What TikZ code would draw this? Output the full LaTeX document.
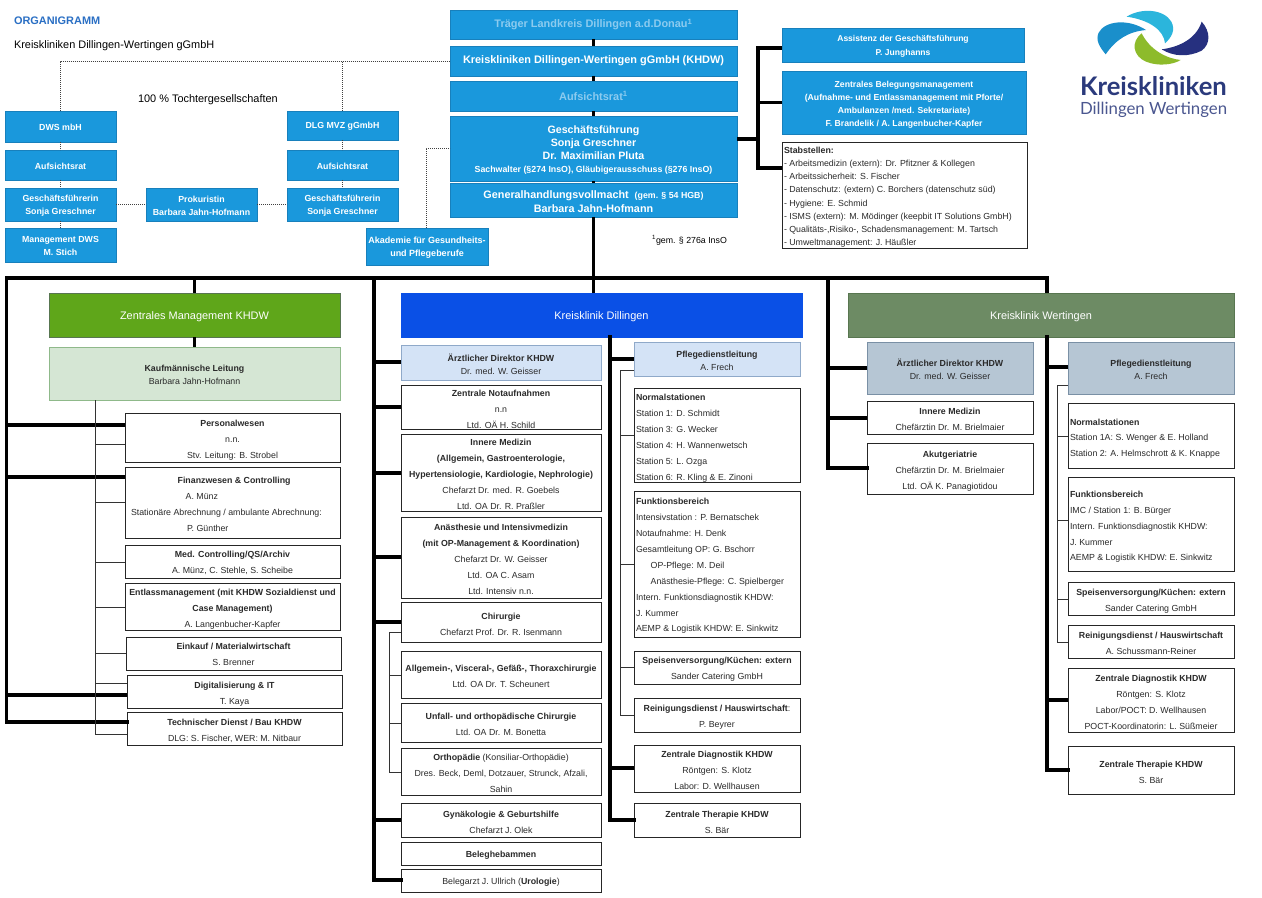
\documentclass[tikz,border=0pt]{standalone}
\usepackage{fontspec}
\setmainfont{Liberation Sans}
\newfontfamily\logofont{Lato}
\definecolor{hblue}{HTML}{1A98DC}
\definecolor{hbord}{HTML}{1880BC}
\definecolor{fade}{HTML}{8CCBEF}
\definecolor{mgreen}{HTML}{5FA61A}
\definecolor{lgreen}{HTML}{D5E6D4}
\definecolor{lgbord}{HTML}{8FB98A}
\definecolor{royal}{HTML}{0A50E6}
\definecolor{lblue}{HTML}{D4E3F6}
\definecolor{lbbord}{HTML}{8FA9C9}
\definecolor{wgreen}{HTML}{6D8B64}
\definecolor{wgbord}{HTML}{587650}
\definecolor{gblue}{HTML}{B6C6D4}
\definecolor{gbbord}{HTML}{7A90A5}
\definecolor{titleblue}{HTML}{2A6FC4}
\definecolor{navy}{HTML}{2B3A7C}
\definecolor{navyb}{HTML}{26307F}
\definecolor{logoa}{HTML}{1A8FCB}
\definecolor{logob}{HTML}{2BB5DC}
\definecolor{logog}{HTML}{8DBB2B}
\definecolor{txt}{HTML}{2A2A2A}
\tikzset{
  bxbase/.style={rectangle,inner xsep=0pt,inner ysep=-6pt,outer sep=0pt,align=flush center,text=txt,font=\fontsize{6.6}{12}\selectfont},
  lead/.style={font=\fontsize{6.6}{#1}\selectfont},
  whitebox/.style={draw=black!85,fill=white,line width=.7pt},
  bluebox/.style={draw=hbord,fill=hblue,text=white,line width=.6pt,font=\bfseries\fontsize{6.6}{9.5}\selectfont},
  bar/.style={line width=.7pt,text=white,font=\fontsize{8.2}{10}\selectfont},
  leftbox/.style={align=flush left},
  heavy/.style={line width=2.5pt,black},
  thinl/.style={line width=.7pt,black!80},
  dotl/.style={line width=.7pt,black!75,dash pattern=on .8pt off .7pt},
  free/.style={inner sep=0pt,outer sep=0pt,anchor=west,text=black,font=\fontsize{8.2}{10}\selectfont}
}
\newcommand{\kbox}[8][2]{%
  \pgfmathsetmacro\kw{(#5-#3)*.75}%
  \pgfmathsetmacro\kh{(#6-#4)*.75}%
  \pgfmathsetmacro\kt{\kw-3}%
  \pgfmathsetmacro\ks{5+#1*1.5}%
  \node[bxbase,minimum width=\kw pt,minimum height=\kh pt,text width=\kt pt,#7] (#2) at ({(#3+#5)/2},{(#4+#6)/2}) {\rule{0pt}{\ks pt}#8};}
\newcommand{\tap}[4]{\draw[#4] (#2.west |- 0,#3) -- (#1 |- 0,#3);}
\begin{document}
\begin{tikzpicture}[x=.75pt,y=-.75pt]
\useasboundingbox (0,0) rectangle (1262,898);
\fill[white] (0,0) rectangle (1262,898);
% titles
\node[free,text=titleblue,font=\bfseries\fontsize{8.2}{10}\selectfont] (ttl) at (14,21) {ORGANIGRAMM};
\node[free] (sub) at (14,45.5) {Kreiskliniken Dillingen-Wertingen gGmbH};
\node[free] (toch) at (138,99.5) {100 \% Tochtergesellschaften};
\node[free,font=\fontsize{6.6}{8}\selectfont] (fn) at (652,240) {\textsuperscript{1}gem. § 276a InsO};
% top column
\kbox[1]{trg}{450}{10}{737}{39}{bluebox,text=fade,font=\bfseries\fontsize{8.2}{10}\selectfont}{Träger Landkreis Dillingen a.d.Donau\textsuperscript{1}}
\kbox[0.5]{khdw}{450}{46}{737}{76}{bluebox,font=\bfseries\fontsize{8.2}{10}\selectfont}{Kreiskliniken Dillingen-Wertingen gGmbH (KHDW)}
\kbox[0.5]{ar}{450}{81}{737}{111}{bluebox,text=fade,font=\bfseries\fontsize{8.2}{10}\selectfont}{Aufsichtsrat\textsuperscript{1}}
\kbox{gf}{450}{116}{737}{181}{bluebox,font=\bfseries\fontsize{8}{9.9}\selectfont}{Geschäftsführung\\Sonja Greschner\\Dr. Maximilian Pluta\\{\fontsize{6.6}{9.9}\selectfont Sachwalter (§274 InsO), Gläubigerausschuss (§276 InsO)}}
\kbox{ghv}{450}{183}{737}{217}{bluebox,font=\bfseries\fontsize{8.1}{10.1}\selectfont}{Generalhandlungsvollmacht\ \ {\fontsize{6.6}{10.1}\selectfont(gem. § 54 HGB)}\\Barbara Jahn-Hofmann}
\kbox[1]{assi}{782}{28}{1024}{62}{bluebox,font=\bfseries\fontsize{6.4}{10}\selectfont}{Assistenz der Geschäftsführung\\P. Junghanns}
\kbox{beleg}{782}{71}{1026}{134}{bluebox,font=\bfseries\fontsize{6.5}{9.9}\selectfont}{Zentrales Belegungsmanagement\\(Aufnahme- und Entlassmanagement mit Pforte/\\Ambulanzen /med. Sekretariate)\\F. Brandelik / A. Langenbucher-Kapfer}
\kbox{stab}{782}{142}{1027}{248}{whitebox,leftbox,lead=9.9}{\textbf{Stabstellen:}\\- Arbeitsmedizin (extern): Dr. Pfitzner \& Kollegen\\- Arbeitssicherheit: S. Fischer\\- Datenschutz: (extern) C. Borchers (datenschutz süd)\\- Hygiene: E. Schmid\\- ISMS (extern): M. Mödinger (keepbit IT Solutions GmbH)\\- Qualitäts-,Risiko-, Schadensmanagement: M. Tartsch\\- Umweltmanagement: J. Häußler}
% daughter companies
\kbox[1]{dws}{5}{111}{116}{142}{bluebox}{DWS mbH}
\kbox[1]{dwsar}{5}{150}{116}{180}{bluebox}{Aufsichtsrat}
\kbox[1]{dwsgf}{5}{188}{116}{221}{bluebox}{Geschäftsführerin\\Sonja Greschner}
\kbox[1]{dwsm}{5}{228}{116}{262}{bluebox}{Management DWS\\M. Stich}
\kbox[1]{dlg}{287}{111}{398}{140}{bluebox}{DLG MVZ gGmbH}
\kbox[1]{dlgar}{287}{150}{398}{180}{bluebox}{Aufsichtsrat}
\kbox[1]{dlggf}{287}{188}{398}{221}{bluebox}{Geschäftsführerin\\Sonja Greschner}
\kbox[1]{prok}{146}{188}{257}{221}{bluebox}{Prokuristin\\Barbara Jahn-Hofmann}
\kbox[1]{akad}{366}{228}{488}{265}{bluebox,font=\bfseries\fontsize{6.75}{9.8}\selectfont}{Akademie für Gesundheits-\\und Pflegeberufe}
% Zentrales Management
\kbox{zm}{49}{293}{340}{337}{bar,draw=wgbord,fill=mgreen}{Zentrales Management KHDW}
\kbox[1]{kauf}{49}{347}{340}{400}{draw=lgbord,fill=lgreen,line width=.7pt,lead=9.8}{\textbf{Kaufmännische Leitung}\\Barbara Jahn-Hofmann}
\kbox[3]{pers}{125}{413}{340}{462}{whitebox}{\textbf{Personalwesen}\\n.n.\\Stv. Leitung: B. Strobel}
\kbox{fin}{125}{467}{340}{538}{whitebox,leftbox}{\hspace*{38pt}\textbf{Finanzwesen \& Controlling}\\\hspace*{44pt}A. Münz\\\hspace*{3pt}Stationäre Abrechnung / ambulante Abrechnung:\\\hspace*{45pt}P. Günther}
\kbox[1]{med}{125}{545}{340}{578}{whitebox}{\textbf{Med. Controlling/QS/Archiv}\\A. Münz, C. Stehle, S. Scheibe}
\kbox[3]{entl}{125}{583}{340}{630}{whitebox}{\textbf{Entlassmanagement (mit KHDW Sozialdienst und}\\\textbf{Case Management)}\\A. Langenbucher-Kapfer}
\kbox[1]{eink}{126}{637}{341}{670}{whitebox}{\textbf{Einkauf / Materialwirtschaft}\\S. Brenner}
\kbox[3]{digi}{127}{675}{342}{708}{whitebox}{\textbf{Digitalisierung \& IT}\\T. Kaya}
\kbox{tech}{127}{712}{342}{745}{whitebox}{\textbf{Technischer Dienst / Bau KHDW}\\DLG: S. Fischer, WER: M. Nitbaur}
% Dillingen
\kbox{kd}{401}{293}{802}{337}{bar,draw=royal,fill=royal}{Kreisklinik Dillingen}
\kbox{da}{401}{345}{601}{380}{draw=lbbord,fill=lblue,line width=.7pt,lead=10}{\textbf{Ärztlicher Direktor KHDW}\\Dr. med. W. Geisser}
\kbox{dnot}{401}{385}{601}{429}{whitebox}{\textbf{Zentrale Notaufnahmen}\\n.n\\Ltd. OÄ H. Schild}
\kbox{dinn}{401}{434}{601}{511}{whitebox}{\textbf{Innere Medizin}\\\textbf{(Allgemein, Gastroenterologie,}\\\textbf{Hypertensiologie, Kardiologie, Nephrologie)}\\Chefarzt Dr. med. R. Goebels\\Ltd. OA Dr. R. Praßler}
\kbox{dana}{401}{517}{601}{598}{whitebox}{\textbf{Anästhesie und Intensivmedizin}\\\textbf{(mit OP-Management \& Koordination)}\\Chefarzt Dr. W. Geisser\\Ltd. OA C. Asam\\Ltd. Intensiv n.n.}
\kbox{dchi}{401}{602}{601}{642}{whitebox}{\textbf{Chirurgie}\\Chefarzt Prof. Dr. R. Isenmann}
\kbox{dall}{401}{651}{601}{698}{whitebox}{\textbf{Allgemein-, Visceral-, Gefäß-, Thoraxchirurgie}\\Ltd. OA Dr. T. Scheunert}
\kbox{dunf}{401}{703}{601}{742}{whitebox}{\textbf{Unfall- und orthopädische Chirurgie}\\Ltd. OA Dr. M. Bonetta}
\kbox{dort}{401}{748}{601}{795}{whitebox}{\textbf{Orthopädie} (Konsiliar-Orthopädie)\\Dres. Beck, Deml, Dotzauer, Strunck, Afzali,\\Sahin}
\kbox{dgyn}{401}{803}{601}{837}{whitebox}{\textbf{Gynäkologie \& Geburtshilfe}\\Chefarzt J. Olek}
\kbox{dheb}{401}{842}{601}{865}{whitebox}{\textbf{Beleghebammen}}
\kbox{duro}{401}{869}{601}{892}{whitebox}{Belegarzt J. Ullrich (\textbf{Urologie})}
\kbox{dp}{634}{342}{800}{376}{draw=lbbord,fill=lblue,line width=.7pt,lead=10}{\textbf{Pflegedienstleitung}\\A. Frech}
\kbox[3]{dnor}{634}{388}{800}{482}{whitebox,leftbox,lead=11.9}{\textbf{Normalstationen}\\Station 1: D. Schmidt\\Station 3: G. Wecker\\Station 4: H. Wannenwetsch\\Station 5: L. Ozga\\Station 6: R. Kling \& E. Zinoni}
\kbox{dfun}{634}{491}{800}{637}{whitebox,leftbox,lead=11.9}{\textbf{Funktionsbereich}\\Intensivstation : P. Bernatschek\\Notaufnahme: H. Denk\\Gesamtleitung OP: G. Bschorr\\\hspace*{11pt}OP-Pflege: M. Deil\\\hspace*{11pt}Anästhesie-Pflege: C. Spielberger\\Intern. Funktionsdiagnostik KHDW:\\J. Kummer\\AEMP \& Logistik KHDW: E. Sinkwitz}
\kbox{dspe}{634}{651}{800}{684}{whitebox}{\textbf{Speisenversorgung/Küchen: extern}\\Sander Catering GmbH}
\kbox{drei}{634}{698}{800}{732}{whitebox}{\textbf{Reinigungsdienst / Hauswirtschaft}:\\P. Beyrer}
\kbox{ddia}{634}{745}{800}{792}{whitebox}{\textbf{Zentrale Diagnostik KHDW}\\Röntgen: S. Klotz\\Labor: D. Wellhausen}
\kbox{dthe}{634}{803}{800}{837}{whitebox}{\textbf{Zentrale Therapie KHDW}\\S. Bär}
% Wertingen
\kbox{kw}{848}{293}{1234}{337}{bar,draw=wgbord,fill=wgreen}{Kreisklinik Wertingen}
\kbox{wa}{867}{342}{1033}{394}{draw=gbbord,fill=gblue,line width=.7pt,lead=10}{\textbf{Ärztlicher Direktor KHDW}\\Dr. med. W. Geisser}
\kbox{winn}{867}{401}{1033}{434}{whitebox}{\textbf{Innere Medizin}\\Chefärztin Dr. M. Brielmaier}
\kbox[3]{wakt}{867}{443}{1033}{494}{whitebox}{\textbf{Akutgeriatrie}\\Chefärztin Dr. M. Brielmaier\\Ltd. OÄ K. Panagiotidou}
\kbox{wp}{1068}{342}{1234}{394}{draw=gbbord,fill=gblue,line width=.7pt,lead=10}{\textbf{Pflegedienstleitung}\\A. Frech}
\kbox[3]{wnor}{1068}{403}{1234}{468}{whitebox,leftbox,lead=11.8}{\textbf{Normalstationen}\\Station 1A: S. Wenger \& E. Holland\\Station 2: A. Helmschrott \& K. Knappe}
\kbox[3]{wfun}{1068}{477}{1234}{571}{whitebox,leftbox,lead=11.8}{\textbf{Funktionsbereich}\\IMC / Station 1: B. Bürger\\Intern. Funktionsdiagnostik KHDW:\\J. Kummer\\AEMP \& Logistik KHDW: E. Sinkwitz}
\kbox[3]{wspe}{1068}{582}{1234}{615}{whitebox}{\textbf{Speisenversorgung/Küchen: extern}\\Sander Catering GmbH}
\kbox{wrei}{1068}{625}{1234}{658}{whitebox}{\textbf{Reinigungsdienst / Hauswirtschaft}\\A. Schussmann-Reiner}
\kbox{wdia}{1068}{668}{1234}{732}{whitebox}{\textbf{Zentrale Diagnostik KHDW}\\Röntgen: S. Klotz\\Labor/POCT: D. Wellhausen\\POCT-Koordinatorin: L. Süßmeier}
\kbox{wthe}{1068}{746}{1234}{794}{whitebox}{\textbf{Zentrale Therapie KHDW}\\S. Bär}
% trunk anchors
\coordinate (bus) at (593.5,278);
\coordinate (busL) at (6.5,278);
\coordinate (busR) at (1047,278);
\coordinate (brk) at (758,48);
\coordinate (brkB) at (758,168);
\coordinate (tZ) at (6.5,722);
\coordinate (tD) at (374,880);
\coordinate (tM) at (610,820);
\coordinate (tW) at (828,468);
\coordinate (tP) at (1047,770);
\coordinate (sK) at (95.5,734);
\coordinate (sC) at (389,772);
\coordinate (sD) at (620,715);
\coordinate (sW) at (1057,642);
\coordinate (dotT) at (60.5,61);
\coordinate (dotA) at (426,148);
% chain at top
\draw[heavy] (trg.south) -- (khdw.north);
\draw[heavy] (khdw.south) -- (ar.north);
\draw[heavy] (ar.south) -- (gf.north);
\draw[heavy] (gf.south) -- (ghv.north);
\draw[heavy] (ghv.south) -- (bus);
\draw[heavy,line cap=rect] (busL) -- (busR);
\draw[heavy] (gf.east |- 0,139) -- (brk |- 0,139);
\draw[heavy,line cap=rect] (brk) -- (brkB);
\draw[heavy] (brk) -- (assi.west |- brk);
\draw[heavy] (brk |- beleg.west) -- (beleg.west);
\draw[heavy] (brkB) -- (stab.west |- brkB);
% bars
\draw[heavy] (zm.north) -- (zm.north |- bus);
\draw[heavy] (zm.south) -- (kauf.north);
\draw[heavy] (bus) -- (bus |- kd.north);
\draw[heavy] (busR) -- (busR |- kw.north);
% left trunk
\draw[heavy,line cap=rect] (busL) -- (tZ) -- (tech.west |- tZ);
\tap{tZ}{pers}{425}{heavy}
\tap{tZ}{fin}{477}{heavy}
\tap{tZ}{digi}{695}{heavy}
\draw[thinl] (kauf.south -| sK) -- (sK) -- (tech.west |- sK);
\tap{sK}{pers}{444}{thinl}
\tap{sK}{fin}{502}{thinl}
\tap{sK}{med}{562}{thinl}
\tap{sK}{entl}{607}{thinl}
\tap{sK}{eink}{653}{thinl}
\tap{sK}{digi}{683}{thinl}
% Dillingen trunks
\draw[heavy,line cap=rect] (tD |- bus) -- (tD) -- (duro.west |- tD);
\tap{tD}{da}{362}{heavy}
\tap{tD}{dnot}{407}{heavy}
\tap{tD}{dinn}{473}{heavy}
\tap{tD}{dana}{557}{heavy}
\tap{tD}{dchi}{622}{heavy}
\tap{tD}{dgyn}{820}{heavy}
\draw[thinl] (dchi.west |- 0,632) -- (sC |- 0,632) -- (sC) -- (dort.west |- sC);
\tap{sC}{dall}{675}{thinl}
\tap{sC}{dunf}{723}{thinl}
\draw[heavy,line cap=rect] (tM |- kd.south) -- (tM) -- (dthe.west |- tM);
\tap{tM}{dp}{359}{heavy}
\tap{tM}{ddia}{768}{heavy}
\draw[thinl] (dp.west |- 0,370) -- (sD |- 0,370) -- (sD) -- (drei.west |- sD);
\tap{sD}{dnor}{435}{thinl}
\tap{sD}{dfun}{564}{thinl}
\tap{sD}{dspe}{667}{thinl}
% Wertingen trunks
\draw[heavy,line cap=rect] (tW |- bus) -- (tW) -- (wakt.west |- tW);
\tap{tW}{wa}{368}{heavy}
\tap{tW}{winn}{418}{heavy}
\draw[heavy,line cap=rect] (tP |- kw.south) -- (tP) -- (wthe.west |- tP);
\tap{tP}{wp}{367}{heavy}
\tap{tP}{wdia}{700}{heavy}
\draw[thinl] (wp.west |- 0,385) -- (sW |- 0,385) -- (sW) -- (wrei.west |- sW);
\tap{sW}{wnor}{436}{thinl}
\tap{sW}{wfun}{520}{thinl}
\tap{sW}{wspe}{599}{thinl}
% dotted
\draw[dotl] (dws.north) -- (dotT) -- (khdw.west |- dotT);
\draw[dotl] (dlg.north) -- (dlg.north |- dotT);
\draw[dotl] (dws.south) -- (dwsar.north);
\draw[dotl] (dwsar.south) -- (dwsgf.north);
\draw[dotl] (dwsgf.south) -- (dwsm.north);
\draw[dotl] (dlg.south) -- (dlgar.north);
\draw[dotl] (dlgar.south) -- (dlggf.north);
\draw[dotl] (dwsgf.east) -- (prok.west);
\draw[dotl] (prok.east) -- (dlggf.west);
\draw[dotl] (akad.north -| dotA) -- (dotA) -- (gf.west |- dotA);
% logo
\begin{scope}[shift={(1060,0)},x=.25pt,y=-.25pt]
\fill[logoa] (137,163) .. controls (118,140) and (106,120) .. (116,98) .. controls (135,62) and (205,55) .. (258,90) .. controls (205,95) and (168,118) .. (137,163) -- cycle;
\fill[logob] (200,50) .. controls (245,22) and (312,28) .. (334,65) .. controls (347,90) and (335,112) .. (315,130) .. controls (312,92) and (270,60) .. (200,50) -- cycle;
\fill[navyb] (305,148) .. controls (365,140) and (410,112) .. (425,65) .. controls (452,95) and (452,132) .. (425,152) .. controls (385,172) and (340,170) .. (305,148) -- cycle;
\fill[logog] (245,100) .. controls (212,125) and (218,168) .. (258,185) .. controls (295,200) and (340,194) .. (362,180) .. controls (320,176) and (270,150) .. (245,100) -- cycle;
\end{scope}
\node[free,text=navy,font=\logofont\bfseries\fontsize{19.2}{21}\selectfont] (lg1) at (1080,86) {Kreiskliniken};
\node[free,text=navy!85,font=\logofont\fontsize{12.6}{14}\selectfont] (lg2) at (1080,110) {Dillingen Wertingen};
\end{tikzpicture}
\end{document}
